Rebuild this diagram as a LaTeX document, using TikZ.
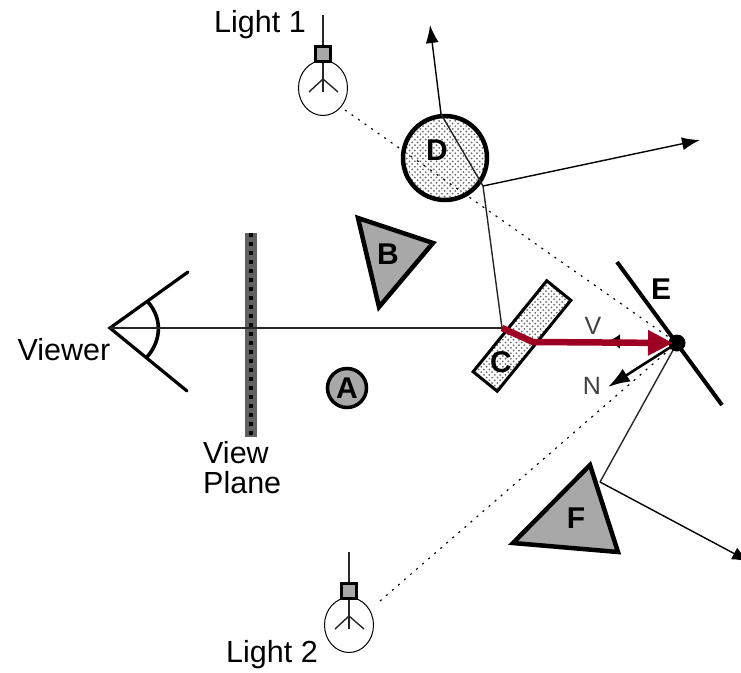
\documentclass[tikz,border=0pt]{standalone}
\usepackage{xcolor}
\usepackage{fontspec}
\setmainfont{Liberation Sans}
\usetikzlibrary{arrows.meta,shapes.geometric}
\definecolor{raygray}{gray}{0.15}
\definecolor{fillgray}{gray}{0.66}
\definecolor{planegray}{gray}{0.38}
\definecolor{dotgray}{gray}{0.42}
\definecolor{pathred}{RGB}{158,0,36}
% staggered dots over a square, from its corner #1,#2
\newcommand{\stipple}[2]{
\foreach \i in {0,...,24}{
\foreach \j in {0,...,24}{
\fill[dotgray] ({#1+5.4*\i},{#2+5.4*\j}) circle (1);
\fill[dotgray] ({#1+2.7+5.4*\i},{#2+2.7+5.4*\j}) circle (1);
}}
}
\begin{document}
\begin{tikzpicture}[
x=1pt,y=-1pt,
caption/.style={font=\fontsize{30.5}{30}\selectfont,align=left,inner sep=0pt},
letter/.style={font=\fontsize{30}{30}\selectfont\bfseries,inner sep=0pt},
vector/.style={font=\fontsize{25}{25}\selectfont,text=black!75,inner sep=0pt},
ray/.style={line width=1.4pt,color=raygray},
lightray/.style={line width=1.2pt,dash pattern=on 2pt off 6pt},
arr/.style={-{Latex[length=18pt,width=13pt]},line width=1.4pt},
body/.style={draw,line width=4.5pt,fill=fillgray,line join=miter},
lamp/.style={draw,ellipse,line width=1pt,minimum width=49pt,minimum height=55pt,inner sep=0pt}
]
\useasboundingbox (0,0) rectangle (741,672);
% points where the rays meet
\coordinate (eye) at (110,328);
\coordinate (eyeup) at (188,272);
\coordinate (eyedown) at (187,391);
\coordinate (hitC) at (502,328);
\coordinate (bendC) at (533,342);
\coordinate (hitD) at (483,186);
\coordinate (hitDtop) at (441,114);
\coordinate (outD) at (430,25);
\coordinate (outDright) at (700,140);
\coordinate (hitE) at (677,343);
\coordinate (tipE) at (673,343);
\coordinate (mirrorup) at (617,262);
\coordinate (mirrordown) at (722,405);
\coordinate (tipV) at (608,341);
\coordinate (tipN) at (608,387);
\coordinate (hitF) at (600,482);
\coordinate (outF) at (750,562);
\coordinate (glowa) at (345,110);
\coordinate (glowb) at (380,601);
% lights
\foreach \n/\x/\y in {a/323/15,b/349/552}{
\begin{scope}[shift={(\x,\y)}]
\node[lamp] (bulb\n) at (0,73) {};
\node[draw,fill=fillgray,line width=3pt,minimum size=15pt,inner sep=0pt] (socket\n) at (0,39) {};
\coordinate (cord\n) at (0,0);
\coordinate (fork\n) at (0,64);
\coordinate (stem\n) at (0,77);
\coordinate (left\n) at (-14,77);
\coordinate (right\n) at (15,77);
\draw[ray] (cord\n) -- (socket\n.north);
\draw[ray] (socket\n.south) -- (stem\n);
\draw[ray] (left\n) -- (fork\n) -- (right\n);
\end{scope}
}
\node[caption] (lighta) at (260,25) {Light 1};
\node[caption] (lightb) at (272,655) {Light 2};
% objects
\begin{scope}
\clip (445,158) circle (42);
\stipple{396}{110}
\end{scope}
\begin{scope}
\clip (547,278) -- (572,300) -- (498,393) -- (472,371) -- cycle;
\stipple{465}{275}
\end{scope}
\node[circle,draw,line width=4.5pt,minimum size=84pt,inner sep=0pt] (D) at (445,158) {};
\node[rectangle,draw,line width=3pt,rotate=51,minimum width=117pt,minimum height=31pt,inner sep=0pt] (C) at (522,336) {};
\node[circle,body,line width=3.5pt,minimum size=39pt,inner sep=0pt] (A) at (347,388) {};
\draw[body] (358,218) -- (433,243) -- (379,307) -- cycle;
\draw[body] (590,465) -- (618,552) -- (513,543) -- cycle;
% view plane
\node[fill=planegray,minimum width=12pt,minimum height=204pt,inner sep=0pt] (plane) at (251,335) {};
\draw[line width=4pt,dash pattern=on 4pt off 5pt] (plane.north) -- (plane.south);
% viewer
\draw[line width=3.2pt,line cap=round] (eyeup) -- (eye) -- (eyedown);
\draw[line width=3.6pt] (148,302) .. controls (162,318) and (162,340) .. (147,357);
% rays
\draw[ray] (eye) -- (hitC);
\draw[ray] (hitC) -- (hitD);
\draw[ray] (hitD) -- (hitDtop);
\draw[arr] (hitDtop) -- (outD);
\draw[arr] (hitD) -- (outDright);
\draw[ray] (hitE) -- (hitF);
\draw[arr] (hitF) -- (outF);
\draw[lightray] (glowa) -- (hitE);
\draw[lightray] (glowb) -- (hitE);
% surface E and its normal
\draw[line width=4pt] (mirrorup) -- (mirrordown);
\node[circle,fill=black,minimum size=17pt,inner sep=0pt] (dotE) at (hitE) {};
\draw[-{Latex[length=22pt,width=15pt]},line width=2.6pt] (hitE) -- (tipN);
\draw[-{Latex[length=12pt,width=15pt]},line width=2pt] (hitE) -- (tipV);
\draw[-{Triangle[length=25pt,width=24pt]},pathred,line width=6.5pt,line join=round] (hitC) -- (bendC) -- (tipE);
% labels
\node[caption] (viewer) at (64,350) {Viewer};
\node[caption,anchor=north west] (planelabel) at (203,441) {View\\Plane};
\node[letter] (labA) at (347,388) {A};
\node[letter] (labB) at (388,254) {B};
\node[letter] (labC) at (501,362) {C};
\node[letter] (labD) at (437,150) {D};
\node[letter] (labE) at (661,289) {E};
\node[letter] (labF) at (576,518) {F};
\node[vector] (labV) at (593,326) {V};
\node[vector] (labN) at (592,386) {N};
\end{tikzpicture}
\end{document}
